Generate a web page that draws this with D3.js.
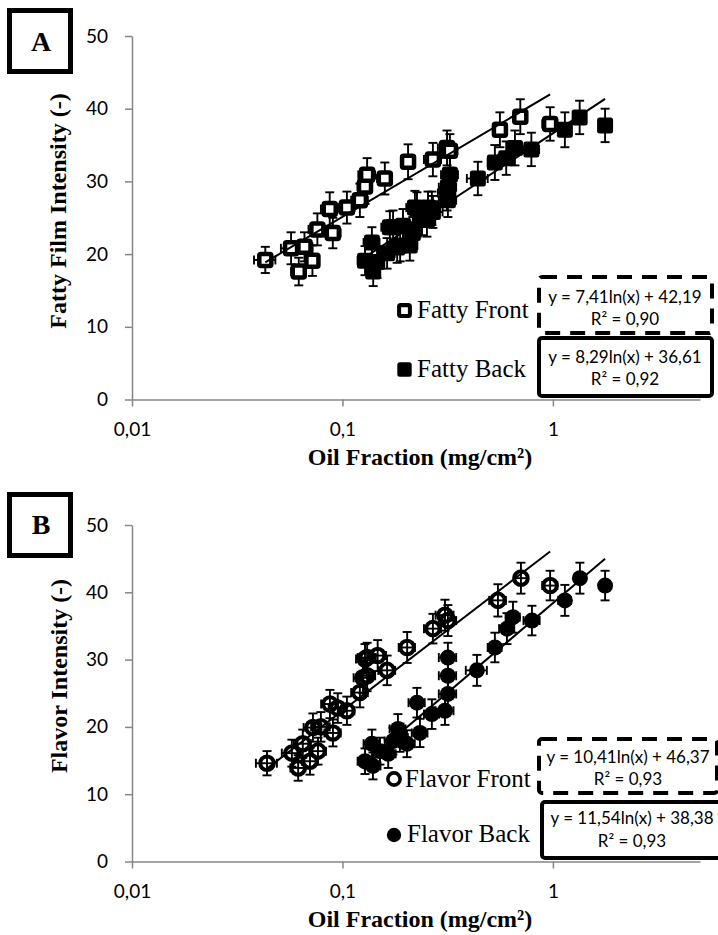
<!DOCTYPE html>
<html>
<head>
<meta charset="utf-8">
<script src="https://cdnjs.cloudflare.com/ajax/libs/d3/7.8.5/d3.min.js"></script>
<style>
  body { margin: 0; background: #fff; }
  .axis path, .axis line { stroke: #868686; stroke-width: 1.5; }
  .axis text { font-family: Lato, sans-serif; font-size: 19px; fill: #000; }
  .title { font-family: "Liberation Serif", serif; font-weight: bold; font-size: 24px; }
  .legend { font-family: "Liberation Serif", serif; font-size: 25px; }
  .eq { font-family: Lato, sans-serif; font-size: 17px; text-anchor: middle; }
  .err { stroke: #000; stroke-width: 1.9; }
</style>
</head>
<body>
<script>
// Axis ticks
var yTicks = [0, 10, 20, 30, 40, 50]
var xTicks = [0.01, 0.1, 1]
var xTickLabels = ["0,01", "0,1", "1"]
var xMin = 0.01, xMax = 5

// Panel A: fatty film
var fattyFrontX = [0.043, 0.057, 0.062, 0.066, 0.072, 0.076, 0.087, 0.090, 0.105, 0.121, 0.128, 0.131, 0.159, 0.205, 0.269, 0.314, 0.324, 0.56, 0.70, 0.97]
var fattyFrontY = [19.2, 20.8, 17.6, 21.0, 19.1, 23.4, 26.2, 22.9, 26.4, 27.4, 29.3, 30.9, 30.4, 32.7, 33.0, 34.6, 34.2, 37.1, 38.9, 37.9]
var fattyFrontXErr = [0.005, 0.006, 0.005, 0.006, 0.005, 0.007, 0.008, 0.008, 0.009, 0.011, 0.010, 0.012, 0.013, 0.015, 0.025, 0.03, 0.028, 0.04, 0.05, 0.08]
var fattyFrontYErr = [1.8, 2.2, 1.9, 2.0, 2.1, 2.2, 2.3, 2.1, 2.2, 2.3, 2.4, 2.3, 2.2, 2.4, 2.3, 2.4, 2.3, 2.4, 2.4, 2.3]

var fattyBackX = [0.128, 0.138, 0.140, 0.146, 0.163, 0.168, 0.174, 0.182, 0.188, 0.194, 0.209, 0.216, 0.221, 0.226, 0.239, 0.252, 0.255, 0.266, 0.269, 0.314, 0.317, 0.317, 0.324, 0.44, 0.53, 0.60, 0.66, 0.79, 1.14, 1.34, 1.77]
var fattyBackY = [19.1, 21.6, 17.6, 18.9, 20.1, 23.7, 23.7, 20.9, 21.2, 23.9, 21.2, 22.9, 26.4, 26.3, 24.7, 24.7, 26.4, 26.3, 25.8, 28.4, 27.4, 29.2, 30.9, 30.4, 32.6, 33.2, 34.6, 34.4, 37.1, 38.8, 37.7]
var fattyBackXErr = [0.01, 0.012, 0.01, 0.012, 0.014, 0.015, 0.015, 0.016, 0.017, 0.02, 0.018, 0.02, 0.02, 0.02, 0.022, 0.024, 0.024, 0.025, 0.03, 0.03, 0.03, 0.03, 0.03, 0.05, 0.04, 0.05, 0.05, 0.07, 0.08, 0.08, 0.1]
var fattyBackYErr = [2.0, 2.1, 2.0, 2.2, 2.1, 2.2, 2.3, 2.1, 2.2, 2.3, 2.1, 2.2, 2.3, 2.2, 2.1, 2.3, 2.2, 2.3, 2.2, 2.4, 2.3, 2.3, 2.4, 2.3, 2.4, 2.3, 2.4, 2.3, 2.4, 2.3, 2.3]

// Panel B: flavor
var flavorFrontX = [0.0438, 0.0575, 0.0616, 0.0648, 0.0701, 0.0724, 0.0765, 0.079, 0.0872, 0.0901, 0.095, 0.105, 0.121, 0.125, 0.128, 0.131, 0.131, 0.147, 0.163, 0.203, 0.269, 0.307, 0.317, 0.548, 0.705, 0.97]
var flavorFrontY = [14.6, 16.1, 13.9, 17.5, 14.9, 19.9, 16.4, 20.0, 23.4, 19.1, 22.8, 22.4, 25.1, 27.3, 30.1, 27.6, 30.3, 30.6, 28.4, 31.8, 34.6, 36.6, 35.8, 38.8, 42.1, 41.0]
var flavorFrontXErr = [0.005, 0.006, 0.005, 0.006, 0.006, 0.007, 0.007, 0.008, 0.008, 0.008, 0.009, 0.009, 0.011, 0.012, 0.012, 0.012, 0.013, 0.014, 0.015, 0.018, 0.025, 0.03, 0.03, 0.05, 0.05, 0.08]
var flavorFrontYErr = [1.8, 2.0, 1.9, 2.1, 2.0, 2.1, 2.0, 2.2, 2.1, 2.0, 2.2, 2.1, 2.2, 2.3, 2.2, 2.3, 2.2, 2.3, 2.2, 2.3, 2.2, 2.3, 2.3, 2.4, 2.3, 2.2]

var flavorBackX = [0.128, 0.1396, 0.138, 0.1508, 0.165, 0.1737, 0.1835, 0.1876, 0.2026, 0.226, 0.2335, 0.266, 0.307, 0.317, 0.317, 0.317, 0.4355, 0.530, 0.605, 0.646, 0.795, 1.14, 1.344, 1.77]
var flavorBackY = [14.9, 14.2, 17.5, 16.4, 16.0, 17.9, 19.7, 18.4, 17.5, 23.6, 19.1, 21.9, 22.4, 24.9, 27.6, 30.3, 28.4, 31.8, 34.6, 36.3, 35.8, 38.8, 42.1, 41.0]
var flavorBackXErr = [0.01, 0.012, 0.012, 0.013, 0.014, 0.015, 0.016, 0.017, 0.018, 0.02, 0.02, 0.022, 0.03, 0.03, 0.03, 0.03, 0.05, 0.04, 0.05, 0.05, 0.07, 0.08, 0.08, 0.1]
var flavorBackYErr = [1.9, 2.0, 2.1, 2.0, 2.1, 2.0, 2.2, 2.1, 2.0, 2.2, 2.1, 2.2, 2.1, 2.2, 2.3, 2.2, 2.3, 2.2, 2.3, 2.3, 2.2, 2.3, 2.3, 2.2]

// Log trendline coefficients: y = a ln(x) + b
var fattyFrontFit = [7.41, 42.19]
var fattyBackFit = [8.29, 36.61]
var flavorFrontFit = [10.41, 46.37]
var flavorBackFit = [11.54, 38.38]

var fattyFrontEq = ["y = 7,41ln(x) + 42,19", "R² = 0,90"]
var fattyBackEq = ["y = 8,29ln(x) + 36,61", "R² = 0,92"]
var flavorFrontEq = ["y = 10,41ln(x) + 46,37", "R² = 0,93"]
var flavorBackEq = ["y = 11,54ln(x) + 38,38", "R² = 0,93"]

var svg = d3.select("body")
  .append("svg")
    .attr("width", 718)
    .attr("height", 935)

var panels = [
  {
    letter: "A", letterBox: [9.5, 10.5], letterY: 51,
    top: 36, bottom: 399.5,
    yTitle: "Fatty Film Intensity (-)", yTitleX: 66, yTitleY: 211, xTitleY: 465,
    shape: "square",
    front: { x: fattyFrontX, y: fattyFrontY, xe: fattyFrontXErr, ye: fattyFrontYErr, fit: fattyFrontFit, eq: fattyFrontEq, name: "Fatty Front" },
    back: { x: fattyBackX, y: fattyBackY, xe: fattyBackXErr, ye: fattyBackYErr, fit: fattyBackFit, eq: fattyBackEq, name: "Fatty Back" },
    legFront: { mx: 404.5, my: 310.5, tx: 417, ty: 318 },
    legBack: { mx: 404.5, my: 369.5, tx: 417, ty: 377 },
    boxFront: { x: 539, y: 277, w: 173, h: 56, cx: 625, l1: 303, l2: 325 },
    boxBack: { x: 539, y: 338, w: 173, h: 58, cx: 625, l1: 363, l2: 385 }
  },
  {
    letter: "B", letterBox: [9.5, 494.5], letterY: 534,
    top: 525, bottom: 861.5,
    yTitle: "Flavor Intensity (-)", yTitleX: 67, yTitleY: 676, xTitleY: 927,
    shape: "circle",
    front: { x: flavorFrontX, y: flavorFrontY, xe: flavorFrontXErr, ye: flavorFrontYErr, fit: flavorFrontFit, eq: flavorFrontEq, name: "Flavor Front" },
    back: { x: flavorBackX, y: flavorBackY, xe: flavorBackXErr, ye: flavorBackYErr, fit: flavorBackFit, eq: flavorBackEq, name: "Flavor Back" },
    legFront: { mx: 394, my: 779, tx: 405, ty: 787 },
    legBack: { mx: 394, my: 835, tx: 407, ty: 842 },
    boxFront: { x: 539, y: 739, w: 178, h: 54, cx: 628, l1: 763, l2: 785 },
    boxBack: { x: 542, y: 802, w: 182, h: 56, cx: 632, l1: 824, l2: 847 }
  }
]

function marker(sel, shape, filled, big) {
  var k = big ? 1 : 0.9
  if (shape == "square") {
    if (filled) {
      sel.append("rect").attr("x", -8 * k).attr("y", -8 * k).attr("width", 16 * k).attr("height", 16 * k)
        .attr("rx", 2.5).attr("fill", "#000")
    } else {
      sel.append("rect").attr("x", -6 * k).attr("y", -6 * k).attr("width", 12 * k).attr("height", 12 * k)
        .attr("rx", 1.5).attr("fill", "#fff").attr("stroke", "#000").attr("stroke-width", 4.5 * k)
    }
  } else {
    if (filled) {
      sel.append("circle").attr("r", 8 * k).attr("fill", "#000")
    } else {
      sel.append("circle").attr("r", 6.8 * k).attr("fill", "none").attr("stroke", "#000").attr("stroke-width", 4 * k)
    }
  }
}

panels.forEach(function(p) {
  var x = d3.scaleLog().domain([xMin, xMax]).range([132, 700])
  var y = d3.scaleLinear().domain([0, 50]).range([p.bottom, p.top])
  var g = svg.append("g")

  // Axes
  g.append("g")
      .classed("axis", true)
      .attr("transform", "translate(132,0)")
      .call(d3.axisLeft(y).tickValues(yTicks).tickSize(7).tickSizeOuter(0).tickPadding(17).tickFormat(d3.format("d")))

  g.append("g")
      .classed("axis", true)
      .attr("transform", "translate(0," + p.bottom + ")")
      .call(d3.axisBottom(x).tickValues(xTicks).tickSize(7).tickSizeOuter(0).tickPadding(16)
        .tickFormat(function(d, i) { return xTickLabels[i] }))

  // Titles
  g.append("text")
      .classed("title", true)
      .attr("text-anchor", "middle")
      .attr("transform", "translate(" + p.yTitleX + "," + p.yTitleY + ") rotate(-90)")
      .text(p.yTitle)

  g.append("text")
      .classed("title", true)
      .attr("text-anchor", "middle")
      .attr("x", 420)
      .attr("y", p.xTitleY)
      .text("Oil Fraction (mg/cm²)")

  // Panel letter
  g.append("rect")
      .attr("x", p.letterBox[0]).attr("y", p.letterBox[1])
      .attr("width", 61).attr("height", 61)
      .attr("fill", "none").attr("stroke", "#000").attr("stroke-width", 5)
  g.append("text")
      .attr("x", 41).attr("y", p.letterY)
      .attr("text-anchor", "middle")
      .style("font-family", "'Liberation Serif', serif")
      .style("font-weight", "bold")
      .style("font-size", "28px")
      .text(p.letter)

  // Error bars
  var series = [p.back, p.front]
  series.forEach(function(s) {
    var eb = g.append("g").classed("err", true)
    s.x.forEach(function(xv, i) {
      var cx = x(xv), cy = y(s.y[i])
      var y1 = y(s.y[i] - s.ye[i]), y2 = y(s.y[i] + s.ye[i])
      var x1 = x(xv - s.xe[i]), x2 = x(xv + s.xe[i])
      eb.append("line").attr("x1", cx).attr("x2", cx).attr("y1", y1).attr("y2", y2)
      eb.append("line").attr("x1", cx - 4.5).attr("x2", cx + 4.5).attr("y1", y1).attr("y2", y1)
      eb.append("line").attr("x1", cx - 4.5).attr("x2", cx + 4.5).attr("y1", y2).attr("y2", y2)
      eb.append("line").attr("x1", x1).attr("x2", x2).attr("y1", cy).attr("y2", cy)
      eb.append("line").attr("x1", x1).attr("x2", x1).attr("y1", cy - 4.5).attr("y2", cy + 4.5)
      eb.append("line").attr("x1", x2).attr("x2", x2).attr("y1", cy - 4.5).attr("y2", cy + 4.5)
    })
  })

  // Markers
  series.forEach(function(s) {
    var filled = (s === p.back)
    s.x.forEach(function(xv, i) {
      var m = g.append("g").attr("transform", "translate(" + x(xv) + "," + y(s.y[i]) + ")")
      marker(m, p.shape, filled, true)
    })
  })

  // Trendlines
  series.forEach(function(s) {
    var ext = d3.extent(s.x)
    var line = d3.line()
      .x(function(d) { return x(d) })
      .y(function(d) { return y(s.fit[0] * Math.log(d) + s.fit[1]) })
    g.append("path")
        .attr("d", line(ext))
        .attr("fill", "none")
        .attr("stroke", "#000")
        .attr("stroke-width", 2)
  })

  // Legend
  var legs = [[p.front, p.legFront, false], [p.back, p.legBack, true]]
  legs.forEach(function(l) {
    var m = g.append("g").attr("transform", "translate(" + l[1].mx + "," + l[1].my + ")")
    marker(m, p.shape, l[2], false)
    g.append("text").classed("legend", true).attr("x", l[1].tx).attr("y", l[1].ty).text(l[0].name)
  })

  // Equation boxes
  var boxes = [[p.boxFront, p.front.eq, true], [p.boxBack, p.back.eq, false]]
  boxes.forEach(function(b) {
    g.append("rect")
        .attr("x", b[0].x).attr("y", b[0].y)
        .attr("width", b[0].w).attr("height", b[0].h)
        .attr("rx", 3)
        .attr("fill", "#fff")
        .attr("stroke", "#000")
        .attr("stroke-width", 4)
        .attr("stroke-dasharray", b[2] ? "15,10" : null)
    g.append("text").classed("eq", true).attr("x", b[0].cx).attr("y", b[0].l1).text(b[1][0])
    g.append("text").classed("eq", true).attr("x", b[0].cx).attr("y", b[0].l2).text(b[1][1])
  })
})
</script>
</body>
</html>
